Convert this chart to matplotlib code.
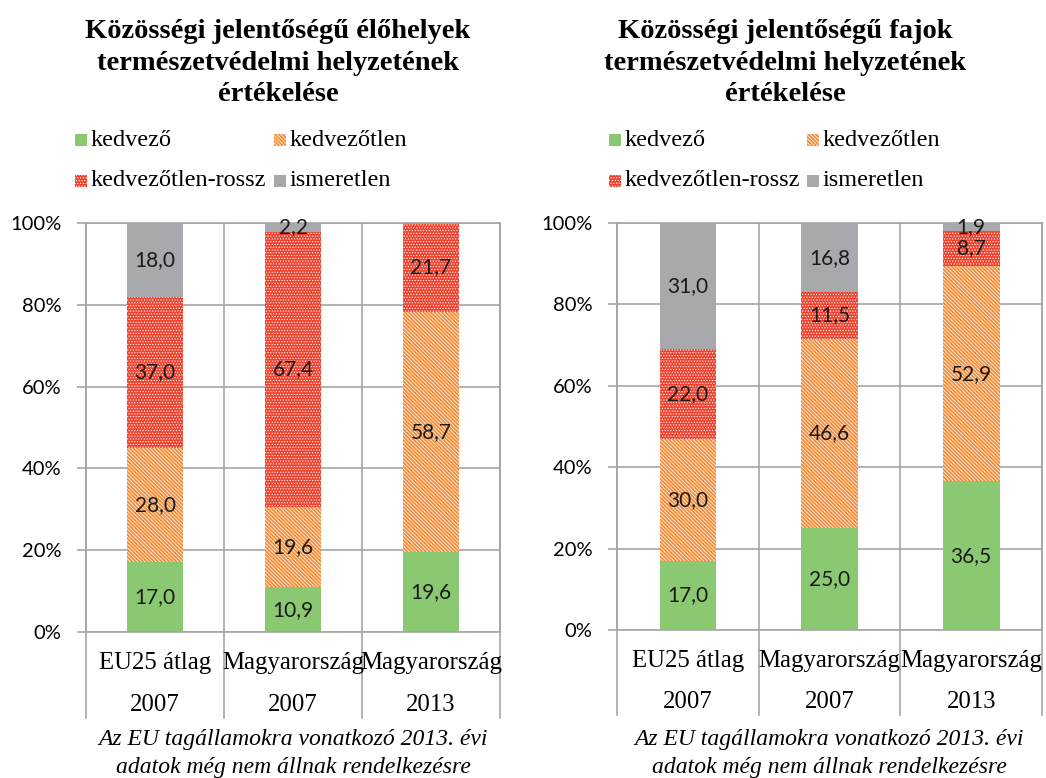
import numpy as np
import matplotlib
matplotlib.use("Agg")
import matplotlib.pyplot as plt
from matplotlib.patches import Rectangle
from matplotlib.transforms import blended_transform_factory

# Data
categories = ["EU25 átlag", "Magyarország", "Magyarország"]
years = ["2007", "2007", "2013"]
series_names = ["kedvező", "kedvezőtlen", "kedvezőtlen-rossz", "ismeretlen"]

# left chart: habitats
elohely_kedvezo = [17.0, 10.9, 19.6]
elohely_kedvezotlen = [28.0, 19.6, 58.7]
elohely_rossz = [37.0, 67.4, 21.7]
elohely_ismeretlen = [18.0, 2.2, 0.0]

# right chart: species
faj_kedvezo = [17.0, 25.0, 36.5]
faj_kedvezotlen = [30.0, 46.6, 52.9]
faj_rossz = [22.0, 11.5, 8.7]
faj_ismeretlen = [31.0, 16.8, 1.9]

title_left = "Közösségi jelentőségű élőhelyek\ntermészetvédelmi helyzetének\nértékelése"
title_right = "Közösségi jelentőségű fajok\ntermészetvédelmi helyzetének\nértékelése"
footnote = ["Az EU tagállamokra vonatkozó 2013. évi", "adatok még nem állnak rendelkezésre"]

GREEN = "#8BC872"
ORANGE = "#F39040"
RED = "#F0432F"
GREY = "#A8A9AC"
GRID = "#A6A6A6"

# (face, edge/hatch colour, hatch, hatch linewidth)
styles = [
    (GREEN, GREEN, None, 1.0),
    ("white", ORANGE, "\\" * 9, 1.4),
    (RED, "white", "." * 6, 0.5),
    (GREY, GREY, None, 1.0),
]

SERIF = "Liberation Serif"
SANS = "Lato"

W, H = 1046, 778
fig = plt.figure(figsize=(W / 100, H / 100), dpi=100)


def fx(px):
    return px / W


def fy(py):
    return 1 - py / H


def draw_panel(rect, series, title, title_x, legend_x, legend_x2):
    ax = fig.add_axes(rect)
    x = np.arange(len(categories))
    bottom = np.zeros(len(categories))
    for vals, (fc, ec, hatch, hlw) in zip(series, styles):
        vals = np.array(vals)
        with plt.rc_context({"hatch.linewidth": hlw}):
            ax.bar(x, vals, 0.4, bottom=bottom, color=fc, edgecolor=ec,
                   hatch=hatch, linewidth=0, zorder=2)
        for xi, b, v in zip(x, bottom, vals):
            if v > 0:
                ax.text(xi, b + v / 2, f"{v:.1f}".replace(".", ","),
                        ha="center", va="center", fontsize=15,
                        family=SANS, color="#1a1a1a", zorder=3)
        bottom += vals

    ax.set_xlim(-0.5, len(categories) - 0.5)
    ax.set_ylim(0, 100)
    ax.set_yticks(np.arange(0, 101, 20))
    ax.set_yticklabels([f"{v}%" for v in range(0, 101, 20)],
                       family=SANS, fontsize=14.5)
    ax.tick_params(axis="y", length=6.5, width=1.2, color=GRID, pad=11)
    ax.set_xticks([])
    ax.grid(axis="y", color=GRID, linewidth=1.2, zorder=0)
    for s in ax.spines.values():
        s.set_color(GRID)
        s.set_linewidth(1.2)

    # category separators extending through the label area
    tr = blended_transform_factory(ax.transData, ax.transAxes)
    for b in np.arange(-0.5, len(categories), 1.0):
        ax.plot([b, b], [-0.21, 1], transform=tr, color=GRID, lw=1.2,
                clip_on=False, zorder=1)
    for xi, (c, yr) in enumerate(zip(categories, years)):
        ax.text(xi, -0.076, c, transform=tr, ha="center", va="center",
                family=SERIF, fontsize=17.8)
        ax.text(xi, -0.178, yr, transform=tr, ha="center", va="center",
                family=SERIF, fontsize=17.8)

    fig.text(title_x, fy(63), title, ha="center", va="center",
             family=SERIF, fontsize=20.5, weight="bold", linespacing=1.33)

    cx = rect[0] + rect[2] / 2
    fig.text(cx, fy(740), footnote[0], ha="center", va="center",
             family=SERIF, fontsize=17, style="italic")
    fig.text(cx, fy(767), footnote[1], ha="center", va="center",
             family=SERIF, fontsize=17, style="italic")

    # legend
    pos = [(legend_x, 140), (legend_x2, 140), (legend_x, 181), (legend_x2, 181)]
    for (px, py), name, (fc, ec, hatch, hlw) in zip(pos, series_names, styles):
        with plt.rc_context({"hatch.linewidth": hlw}):
            fig.patches.append(Rectangle((fx(px), fy(py + 6)), fx(12), 12 / H,
                                         transform=fig.transFigure,
                                         facecolor=fc, edgecolor=ec,
                                         hatch=hatch, linewidth=0))
        fig.text(fx(px + 16), fy(py), name, ha="left", va="center",
                 family=SERIF, fontsize=17.5)
    return ax


draw_panel([fx(86), fy(632), fx(500 - 86), (632 - 223) / H],
           [elohely_kedvezo, elohely_kedvezotlen, elohely_rossz, elohely_ismeretlen],
           title_left, fx(278), 75, 274)
draw_panel([fx(617), fy(630), fx(1042 - 617), (630 - 223) / H],
           [faj_kedvezo, faj_kedvezotlen, faj_rossz, faj_ismeretlen],
           title_right, fx(785), 609, 807)

fig.savefig("out.png", dpi=100)
